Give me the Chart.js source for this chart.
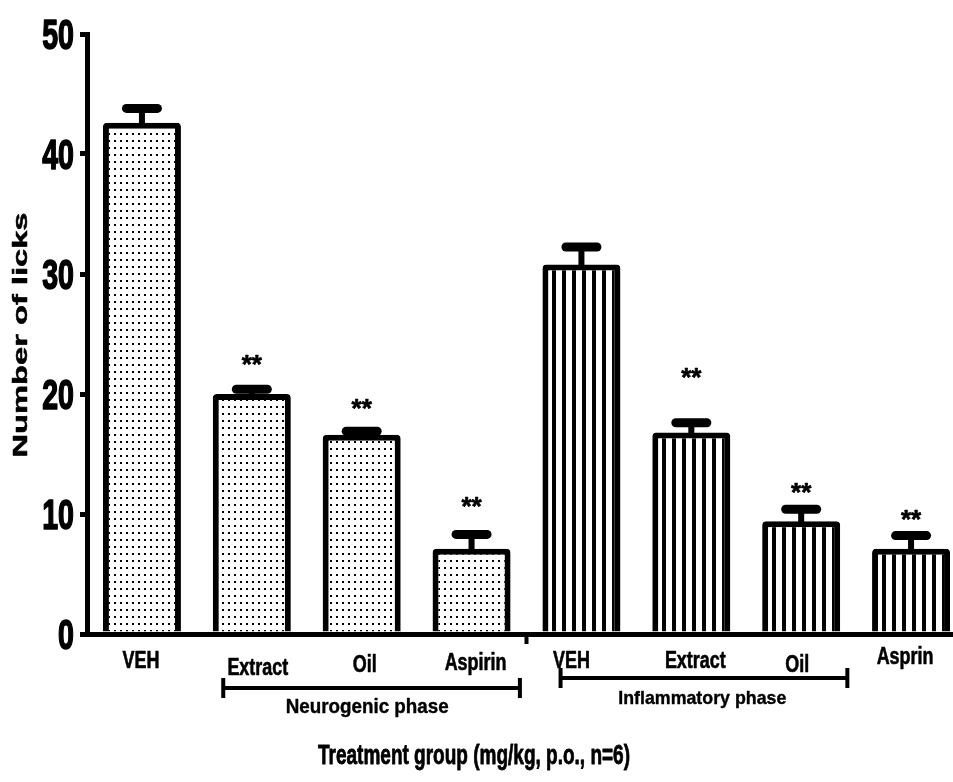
<!DOCTYPE html>
<html><head><meta charset="utf-8">
<script src="https://cdn.jsdelivr.net/npm/chart.js@4.4.1/dist/chart.umd.min.js"></script>
<style>
html,body{margin:0;padding:0;background:#fff;overflow:hidden;}
#wrap{width:953px;height:782px;overflow:hidden;position:relative;background:#fff;}
#c{display:block;}
</style></head><body>
<div id="wrap"><canvas id="c" width="966" height="782" style="width:966px;height:782px"></canvas></div>
<script>
// ---- data ----
const categories = ['VEH', 'Extract', 'Oil', 'Aspirin', 'VEH', 'Extract', 'Oil', 'Asprin'];
const phaseOf = ['neuro', 'neuro', 'neuro', 'neuro', 'inflam', 'inflam', 'inflam', 'inflam'];
const meanLicks = [42.6, 20.0, 16.6, 7.1, 30.8, 16.8, 9.4, 7.1];
const semLicks = [1.2, 0.4, 0.3, 1.2, 1.45, 0.8, 1.0, 1.1];
const significance = ['', '**', '**', '**', '', '**', '**', '**'];
const yTicks = [0, 10, 20, 30, 40, 50];
const phaseLabels = ['Neurogenic phase', 'Inflammatory phase'];
const xTitle = 'Treatment group (mg/kg, p.o., n=6)';
const yTitle = 'Number of licks';

// ---- style ----
const FONT = '"Liberation Sans", Arial, sans-serif';
const labelNudgeX = [-1, 6, 3, 4, -10, 4, -4, -6];
const labelCenterY = [660, 667, 664, 662, 660, 660, 664, 656];
const starGapPx = [0, 31, 29, 34, 0, 52, 23, 23];

const canvas = document.getElementById('c');
const ctx0 = canvas.getContext('2d');

function makeDots() {
  const c = document.createElement('canvas'); c.width = 6; c.height = 7;
  const g = c.getContext('2d');
  g.fillStyle = '#fff'; g.fillRect(0, 0, 6, 7);
  g.fillStyle = '#000'; g.fillRect(0, 0, 2, 2);
  return ctx0.createPattern(c, 'repeat');
}
function makeStripes() {
  const c = document.createElement('canvas'); c.width = 10; c.height = 10;
  const g = c.getContext('2d');
  g.fillStyle = '#fff'; g.fillRect(0, 0, 10, 10);
  g.fillStyle = '#000'; g.fillRect(2, 0, 4, 10);
  return ctx0.createPattern(c, 'repeat');
}
const dots = makeDots(), stripes = makeStripes();
const fills = phaseOf.map(p => p === 'neuro' ? dots : stripes);

function drawText(ctx, s, x, y, size, o) {
  o = o || {};
  ctx.save();
  ctx.font = 'bold ' + size + 'px ' + FONT;
  const w = ctx.measureText(s).width;
  const sx = o.width ? o.width / w : (o.sx || 1);
  ctx.translate(x, y);
  if (o.rot) ctx.rotate(o.rot);
  ctx.scale(sx, 1);
  ctx.textAlign = o.align || 'center';
  ctx.textBaseline = 'alphabetic';
  ctx.fillStyle = '#000';
  ctx.fillText(s, 0, 0);
  if (o.heavy) {
    ctx.strokeStyle = '#000';
    ctx.lineWidth = o.heavy;
    ctx.lineJoin = 'round';
    ctx.strokeText(s, 0, 0);
  }
  ctx.restore();
}
function rrect(ctx, x, y, w, h, r) {
  ctx.beginPath();
  ctx.moveTo(x + r, y); ctx.lineTo(x + w - r, y); ctx.arc(x + w - r, y + r, r, -Math.PI / 2, 0);
  ctx.lineTo(x + w, y + h - r); ctx.arc(x + w - r, y + h - r, r, 0, Math.PI / 2);
  ctx.lineTo(x + r, y + h); ctx.arc(x + r, y + h - r, r, Math.PI / 2, Math.PI);
  ctx.lineTo(x, y + r); ctx.arc(x + r, y + r, r, Math.PI, 1.5 * Math.PI);
  ctx.closePath(); ctx.fill();
}

const overlay = {
  id: 'overlay',
  afterDatasetsDraw(chart) {
    const ctx = chart.ctx, ys = chart.scales.y, meta = chart.getDatasetMeta(0);
    ctx.save(); ctx.fillStyle = '#000';
    meta.data.forEach((bar, i) => {
      const x = bar.x;
      const yTop = ys.getPixelForValue(meanLicks[i]);
      const yErr = ys.getPixelForValue(meanLicks[i] + semLicks[i]);
      ctx.fillRect(x - 3, yErr, 6, yTop - yErr + 3);
      rrect(ctx, x - 20, yErr - 4.5, 40, 9, 4.5);
      if (significance[i]) drawText(ctx, significance[i], x, yErr - starGapPx[i] + 15, 26, {heavy: 0.6});
    });
    ctx.restore();
  },
  afterDraw(chart) {
    const ctx = chart.ctx, xs = chart.scales.x, ys = chart.scales.y;
    const p0 = xs.getPixelForValue(0), p1 = xs.getPixelForValue(1);
    const catX = f => p0 + f * (p1 - p0);
    ctx.save(); ctx.fillStyle = '#000';
    // y tick labels
    yTicks.forEach(v => drawText(ctx, String(v), 74, ys.getPixelForValue(v) + 15, 42, {sx: 0.68, align: 'right', heavy: 1.6}));
    // group separator tick
    const mid = (xs.getPixelForValue(3) + xs.getPixelForValue(4)) / 2;
    ctx.fillRect(mid - 2, chart.chartArea.bottom, 4, 10);
    // category labels
    categories.forEach((c, i) => drawText(ctx, c, xs.getPixelForValue(i) + labelNudgeX[i], labelCenterY[i] + 8, 23, {sx: 0.78, heavy: 0.6}));
    // brackets
    const bracket = (f0, f1, y) => {
      const a = catX(f0), b = catX(f1);
      ctx.fillRect(a, y - 2, b - a, 4);
      ctx.fillRect(a - 2, y - 10, 4, 20);
      ctx.fillRect(b - 2, y - 10, 4, 20);
    };
    bracket(0.74, 3.44, 688);
    bracket(3.81, 6.42, 678);
    drawText(ctx, phaseLabels[0], catX(2.05), 713, 21, {width: 163, heavy: 0.4});
    drawText(ctx, phaseLabels[1], catX(5.1), 704, 19, {width: 168, heavy: 0.4});
    // axis titles
    drawText(ctx, xTitle, 474, 764, 27, {width: 312, heavy: 0.8});
    drawText(ctx, yTitle, 27, 335, 21, {width: 245, rot: -Math.PI / 2, heavy: 0.5});
    ctx.restore();
  }
};

new Chart(canvas, {
  type: 'bar',
  data: {
    labels: categories,
    datasets: [{
      data: meanLicks,
      backgroundColor: fills,
      borderColor: '#000',
      borderWidth: 6,
      borderSkipped: 'start',
      borderRadius: {topLeft: 4, topRight: 4, bottomLeft: 0, bottomRight: 0},
      barPercentage: 0.71,
      categoryPercentage: 1.0
    }]
  },
  options: {
    responsive: false,
    animation: false,
    devicePixelRatio: 1,
    layout: {padding: {left: 77, top: 34, right: 0, bottom: 138}},
    plugins: {legend: {display: false}, tooltip: {enabled: false}},
    scales: {
      x: {
        ticks: {display: false},
        grid: {display: false, drawTicks: false},
        border: {display: true, color: '#000', width: 5},
        afterFit(s) { s.height = 10; }
      },
      y: {
        min: 0, max: 50,
        ticks: {display: false, stepSize: 10},
        grid: {drawOnChartArea: false, drawTicks: true, tickLength: 7, lineWidth: 5, color: '#000'},
        border: {display: true, color: '#000', width: 5},
        afterFit(s) { s.width = 10; }
      }
    }
  },
  plugins: [overlay]
});
</script>
</body></html>
